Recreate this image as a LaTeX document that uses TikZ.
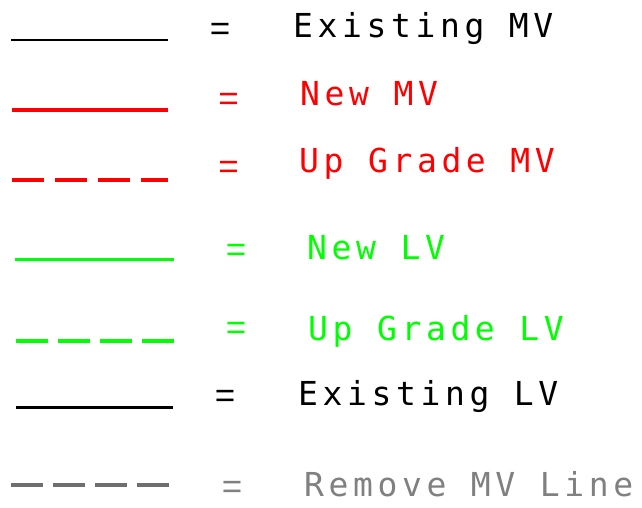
\documentclass[tikz,border=0pt]{standalone}
\usepackage{fontspec}
\newfontfamily\cadfont[LetterSpace=14]{DejaVu Sans Mono}
\newfontfamily\eqfont{Liberation Sans}
\usetikzlibrary{positioning}
\definecolor{cadred}{RGB}{255,0,0}
\definecolor{cadgreen}{RGB}{0,255,0}
\definecolor{cadgrey}{RGB}{110,110,110}
\definecolor{cadgreytext}{RGB}{128,128,128}
\usepackage{tikz}

\begin{document}
\begin{tikzpicture}[x=1pt,y=-1pt,
  label/.style={anchor=base west,inner sep=0pt,font=\cadfont\fontsize{33}{33}\selectfont},
  eqsign/.style={anchor=base,inner sep=0pt,yshift=-12pt,font=\eqfont\fontsize{35}{35}\selectfont},
  mvold/.style={draw=black,line width=1.8pt},
  mvnew/.style={draw=cadred,line width=3.5pt},
  mvup/.style={draw=cadred,line width=4pt,dash pattern=on 32pt off 11pt},
  lvnew/.style={draw=cadgreen,line width=3.5pt},
  lvup/.style={draw=cadgreen,line width=4pt,dash pattern=on 32pt off 10pt},
  lvold/.style={draw=black,line width=3pt},
  mvgone/.style={draw=cadgrey,line width=3.5pt,dash pattern=on 32pt off 10pt}]
			\useasboundingbox (0,0) rectangle (642,507);
			\coordinate (emvA) at (11,40);    \coordinate (emvB) at (168,40);
			\coordinate (nmvA) at (12,110);   \coordinate (nmvB) at (168,110);
			\coordinate (umvA) at (12,180);   \coordinate (umvB) at (168,180);
			\coordinate (nlvA) at (15,259.5); \coordinate (nlvB) at (174,259.5);
			\coordinate (ulvA) at (16,340.5); \coordinate (ulvB) at (174,340.5);
			\coordinate (elvA) at (16,407.5); \coordinate (elvB) at (173,407.5);
			\coordinate (rmvA) at (11,485);   \coordinate (rmvB) at (170,485);
			\node[eqsign](emveq) at (220,28.5) {=};
			\node[eqsign,text=cadred](nmveq) at (228.5,98.5) {=};
			\node[eqsign,text=cadred](umveq) at (228.5,166) {=};
			\node[eqsign,text=cadgreen](nlveq) at (236,249) {=};
			\node[eqsign,text=cadgreen](ulveq) at (236,327) {=};
			\node[eqsign](elveq) at (225,395) {=};
			\node[eqsign,text=cadgreytext](rmveq) at (232,486) {=};
			\node[label](emv) at (293,37) {Existing MV};
			\node[label,text=cadred](nmv) at (300,105.5) {New MV};
			\node[label,text=cadred](umv) at (299,172.5) {Up Grade MV};
			\node[label,text=cadgreen](nlv) at (307,259) {New LV};
			\node[label,text=cadgreen](ulv) at (308,340) {Up Grade LV};
			\node[label](elv) at (298,405) {Existing LV};
			\node[label,text=cadgreytext](rmv) at (304,496) {Remove MV Line};
			\draw[mvold] (emvA) -- (emvB);
			\draw[mvnew] (nmvA) -- (nmvB);
			\draw[mvup] (umvA) -- (umvB);
			\draw[lvnew] (nlvA) -- (nlvB);
			\draw[lvup] (ulvA) -- (ulvB);
			\draw[lvold] (elvA) -- (elvB);
			\draw[mvgone] (rmvA) -- (rmvB);
\end{tikzpicture}
\end{document}
